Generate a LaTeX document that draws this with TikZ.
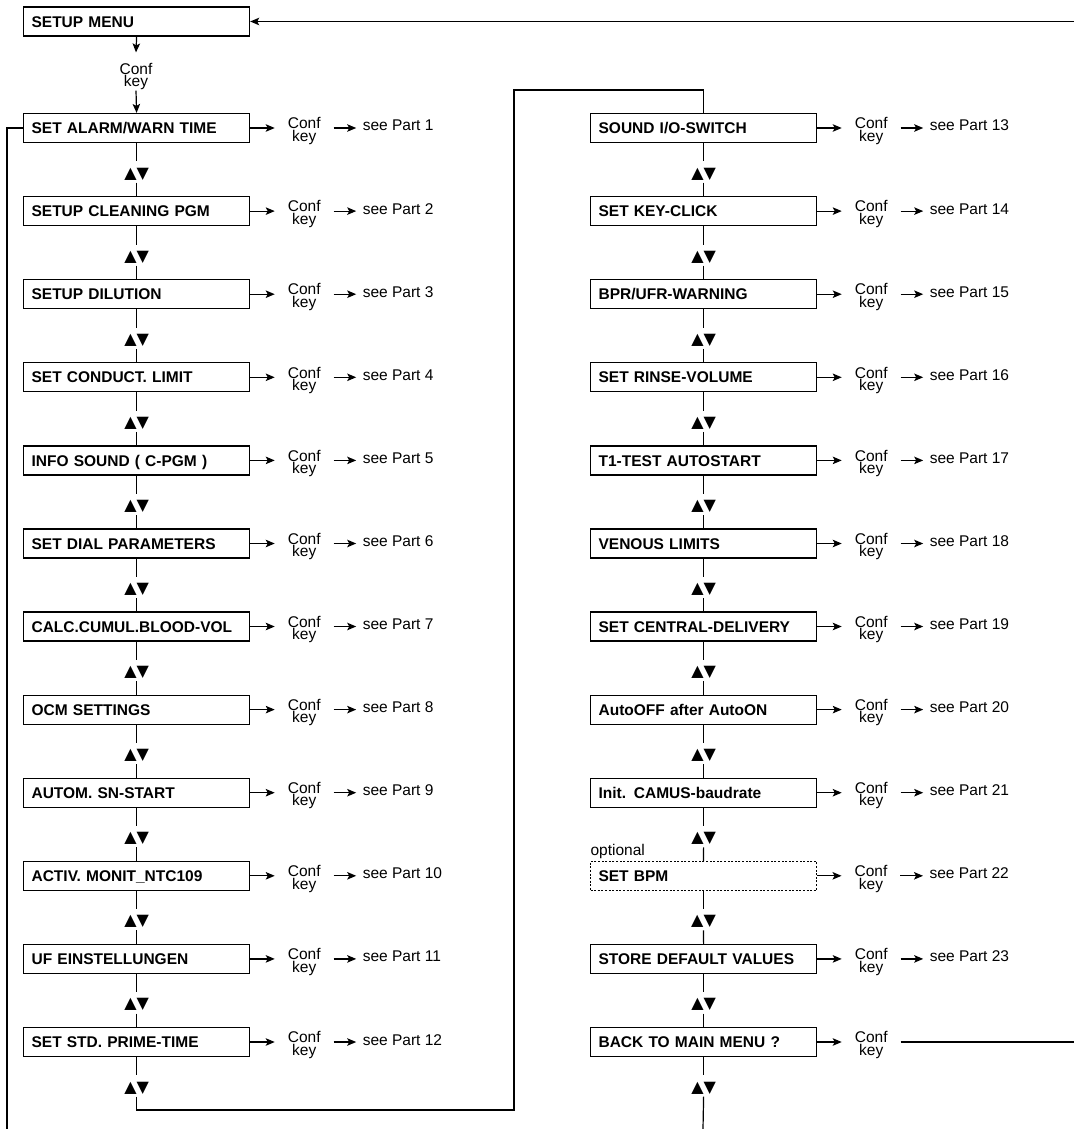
\documentclass[tikz,border=0pt]{standalone}
\usepackage{fontspec}
\setmainfont{Liberation Sans}
\newfontfamily\symfont{DejaVu Sans}
\usetikzlibrary{arrows.meta}
\begin{document}
\begin{tikzpicture}[x=1pt,y=-1pt,line width=1.2pt,
  menubox/.style={draw,line width=1.2pt,anchor=west,minimum height=29pt,text width=210pt,inner xsep=8pt,align=left,
    text height=11.2pt,text depth=0pt,font=\fontsize{15.5}{18}\selectfont\bfseries},
  optbox/.style={menubox,dashed,line width=1pt,dash pattern=on 2pt off 1.6pt},
  confkey/.style={align=center,font=\fontsize{15.5}{12.5}\selectfont,inner xsep=12.5pt,inner ysep=0pt},
  seepart/.style={anchor=base west,font=\fontsize{15.5}{18}\selectfont,inner xsep=6pt},
  updown/.style={font=\symfont\fontsize{16}{18}\selectfont,inner xsep=0pt,inner ysep=4pt,text height=12pt,text depth=0pt},
  arr/.style={-{Stealth[length=9pt,width=7.5pt,inset=2pt]}},
  plain/.style={line width=1.2pt}]
\useasboundingbox (0,0) rectangle (1074,1129);

% top
\node[menubox] (menu) at (23,21.5) {SETUP MENU};
\node[confkey] (mc) at (136,76.5) {Conf\\key};

% left column
\node[menubox] (L0) at (23,128) {SET ALARM/WARN TIME};
\node[menubox] (L1) at (23,211.1) {SETUP CLEANING PGM};
\node[menubox] (L2) at (23,294.2) {SETUP DILUTION};
\node[menubox] (L3) at (23,377.3) {SET CONDUCT. LIMIT};
\node[menubox] (L4) at (23,460.4) {INFO SOUND ( C-PGM )};
\node[menubox] (L5) at (23,543.5) {SET DIAL PARAMETERS};
\node[menubox] (L6) at (23,626.5) {CALC.CUMUL.BLOOD-VOL};
\node[menubox] (L7) at (23,709.6) {OCM SETTINGS};
\node[menubox] (L8) at (23,792.7) {AUTOM. SN-START};
\node[menubox] (L9) at (23,875.8) {ACTIV. MONIT\_NTC109};
\node[menubox] (L10) at (23,958.9) {UF EINSTELLUNGEN};
\node[menubox] (L11) at (23,1042) {SET STD. PRIME-TIME};

% right column
\node[menubox] (R0) at (590,128) {SOUND I/O-SWITCH};
\node[menubox] (R1) at (590,211.1) {SET KEY-CLICK};
\node[menubox] (R2) at (590,294.2) {BPR/UFR-WARNING};
\node[menubox] (R3) at (590,377.3) {SET RINSE-VOLUME};
\node[menubox] (R4) at (590,460.4) {T1-TEST AUTOSTART};
\node[menubox] (R5) at (590,543.5) {VENOUS LIMITS};
\node[menubox] (R6) at (590,626.5) {SET CENTRAL-DELIVERY};
\node[menubox] (R7) at (590,709.6) {AutoOFF after AutoON};
\node[menubox] (R8) at (590,792.7) {Init. CAMUS-baudrate};
\node[optbox] (R9) at (590,875.8) {SET BPM};
\node[menubox] (R10) at (590,958.9) {STORE DEFAULT VALUES};
\node[menubox] (R11) at (590,1042) {BACK TO MAIN MENU ?};
\node[anchor=base west,inner sep=0pt,font=\fontsize{15.5}{18}\selectfont] (opt) at (590,855) {optional};

% conf keys, see parts, up/down symbols
\foreach \c in {L,R}{
  \foreach \i in {0,...,11}{
    \node[confkey] (\c C\i) at ([xshift=54pt,yshift=-3pt]\c\i.east) {Conf\\key};
    \draw[arr] (\c\i.east) -- (\c\i.east -| \c C\i.west);
    \node[updown] (\c T\i) at ([yshift=-44pt]\c\i.center -| \c\i.south) {▲▼};
    \draw[plain] (\c\i.south) -- (\c T\i.north);
  }
}
\foreach \i [evaluate=\i as \p using int(\i+1), evaluate=\i as \q using int(\i+13)] in {0,...,10}{
  \node[seepart] (LS\i) at ([xshift=106pt,yshift=-3pt]L\i.east) {see Part \p};
  \draw[arr] (LC\i.east |- L\i.east) -- (LS\i.west |- L\i.east);
  \node[seepart] (RS\i) at ([xshift=106pt,yshift=-3pt]R\i.east) {see Part \q};
  \draw[arr] (RC\i.east |- R\i.east) -- (RS\i.west |- R\i.east);
}
\node[seepart] (LS11) at ([xshift=106pt,yshift=-3pt]L11.east) {see Part 12};
\draw[arr] (LC11.east |- L11.east) -- (LS11.west |- L11.east);

\foreach \i [evaluate=\i as \j using int(\i+1)] in {0,...,10}{
  \draw[plain] (LT\i.south) -- (L\j.north);
  \draw[plain] (RT\i.south) -- (R\j.north);
}

% top connections
\coordinate (tr) at (1074,21.5);
\draw[arr] (tr) -- (menu.east);
\draw[arr] (menu.south) -- ([yshift=10pt]mc.north);
\draw[arr] (mc.south) -- (L0.north);

% loops
\coordinate (lb) at (7,1129);
\draw[plain] (L0.west) -| (lb);
\coordinate (jb) at (514,1110);
\coordinate (jt) at (514,90);
\draw[plain] (LT11.south) |- (jb) -- (jt) -| (R0.north);
\coordinate (rbb) at (703,1129);
\draw[plain] (RT11.south) -- (rbb);
\coordinate (rb) at (1074,1042);
\draw[plain] (RC11.east |- R11.east) -- (rb);
\end{tikzpicture}
\end{document}
